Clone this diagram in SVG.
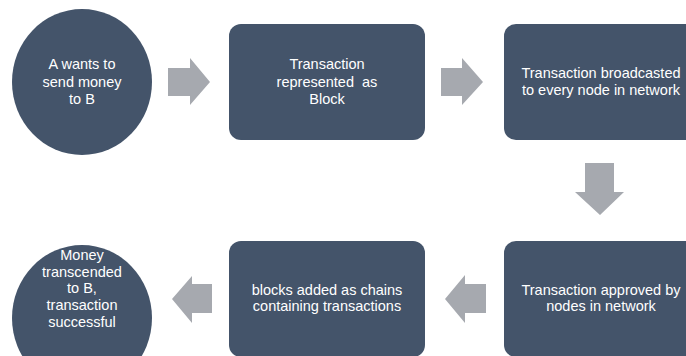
<svg xmlns="http://www.w3.org/2000/svg" width="686" height="356" viewBox="0 0 686 356">
<defs>
<style>
.node{fill:#44546A;}
.arr{fill:#A6A9AF;}
.t{font-family:"Liberation Sans",Arial,sans-serif;font-size:14.5px;fill:#FFFFFF;text-anchor:middle;}
</style>
</defs>
<rect x="0" y="0" width="686" height="356" fill="#FFFFFF"/>
<g id="connectors">
<polygon class="arr" points="168,68 190,68 190,58 210,82 190,105 190,96 168,96"/>
<polygon class="arr" points="441,68 462,68 462,58 483,82 462,105 462,96 441,96"/>
<polygon class="arr" points="585,163 614,163 614,192 624,192 600,215 575,192 585,192"/>
<polygon class="arr" points="486,284 465,284 465,275 445,299 465,323 465,313 486,313"/>
<polygon class="arr" points="212,284 192,284 192,276 172,299 192,323 192,313 212,313"/>
</g>
<g id="n1">
<ellipse class="node" cx="82" cy="82" rx="70" ry="73"/>
<text class="t" x="82" y="69">A wants to</text>
<text class="t" x="82" y="87">send money</text>
<text class="t" x="82" y="104">to B</text>
</g>
<g id="n2">
<rect class="node" x="229" y="24" width="196" height="116" rx="12"/>
<text class="t" x="327" y="69">Transaction</text>
<text class="t" x="327" y="87" xml:space="preserve">represented  as</text>
<text class="t" x="327" y="104">Block</text>
</g>
<g id="n3">
<rect class="node" x="504" y="24" width="196" height="116" rx="12"/>
<text class="t" x="601" y="78">Transaction broadcasted</text>
<text class="t" x="601" y="95">to every node in network</text>
</g>
<g id="n4">
<rect class="node" x="504" y="241" width="196" height="116" rx="12"/>
<text class="t" x="601" y="295">Transaction approved by</text>
<text class="t" x="601" y="311">nodes in network</text>
</g>
<g id="n5">
<rect class="node" x="229" y="241" width="196" height="116" rx="12"/>
<text class="t" x="327" y="295">blocks added as chains</text>
<text class="t" x="327" y="311">containing transactions</text>
</g>
<g id="n6">
<ellipse class="node" cx="82" cy="318" rx="70" ry="73"/>
<text class="t" x="82" y="260">Money</text>
<text class="t" x="82" y="277">transcended</text>
<text class="t" x="82" y="293">to B,</text>
<text class="t" x="82" y="310">transaction</text>
<text class="t" x="82" y="327">successful</text>
</g>
</svg>
